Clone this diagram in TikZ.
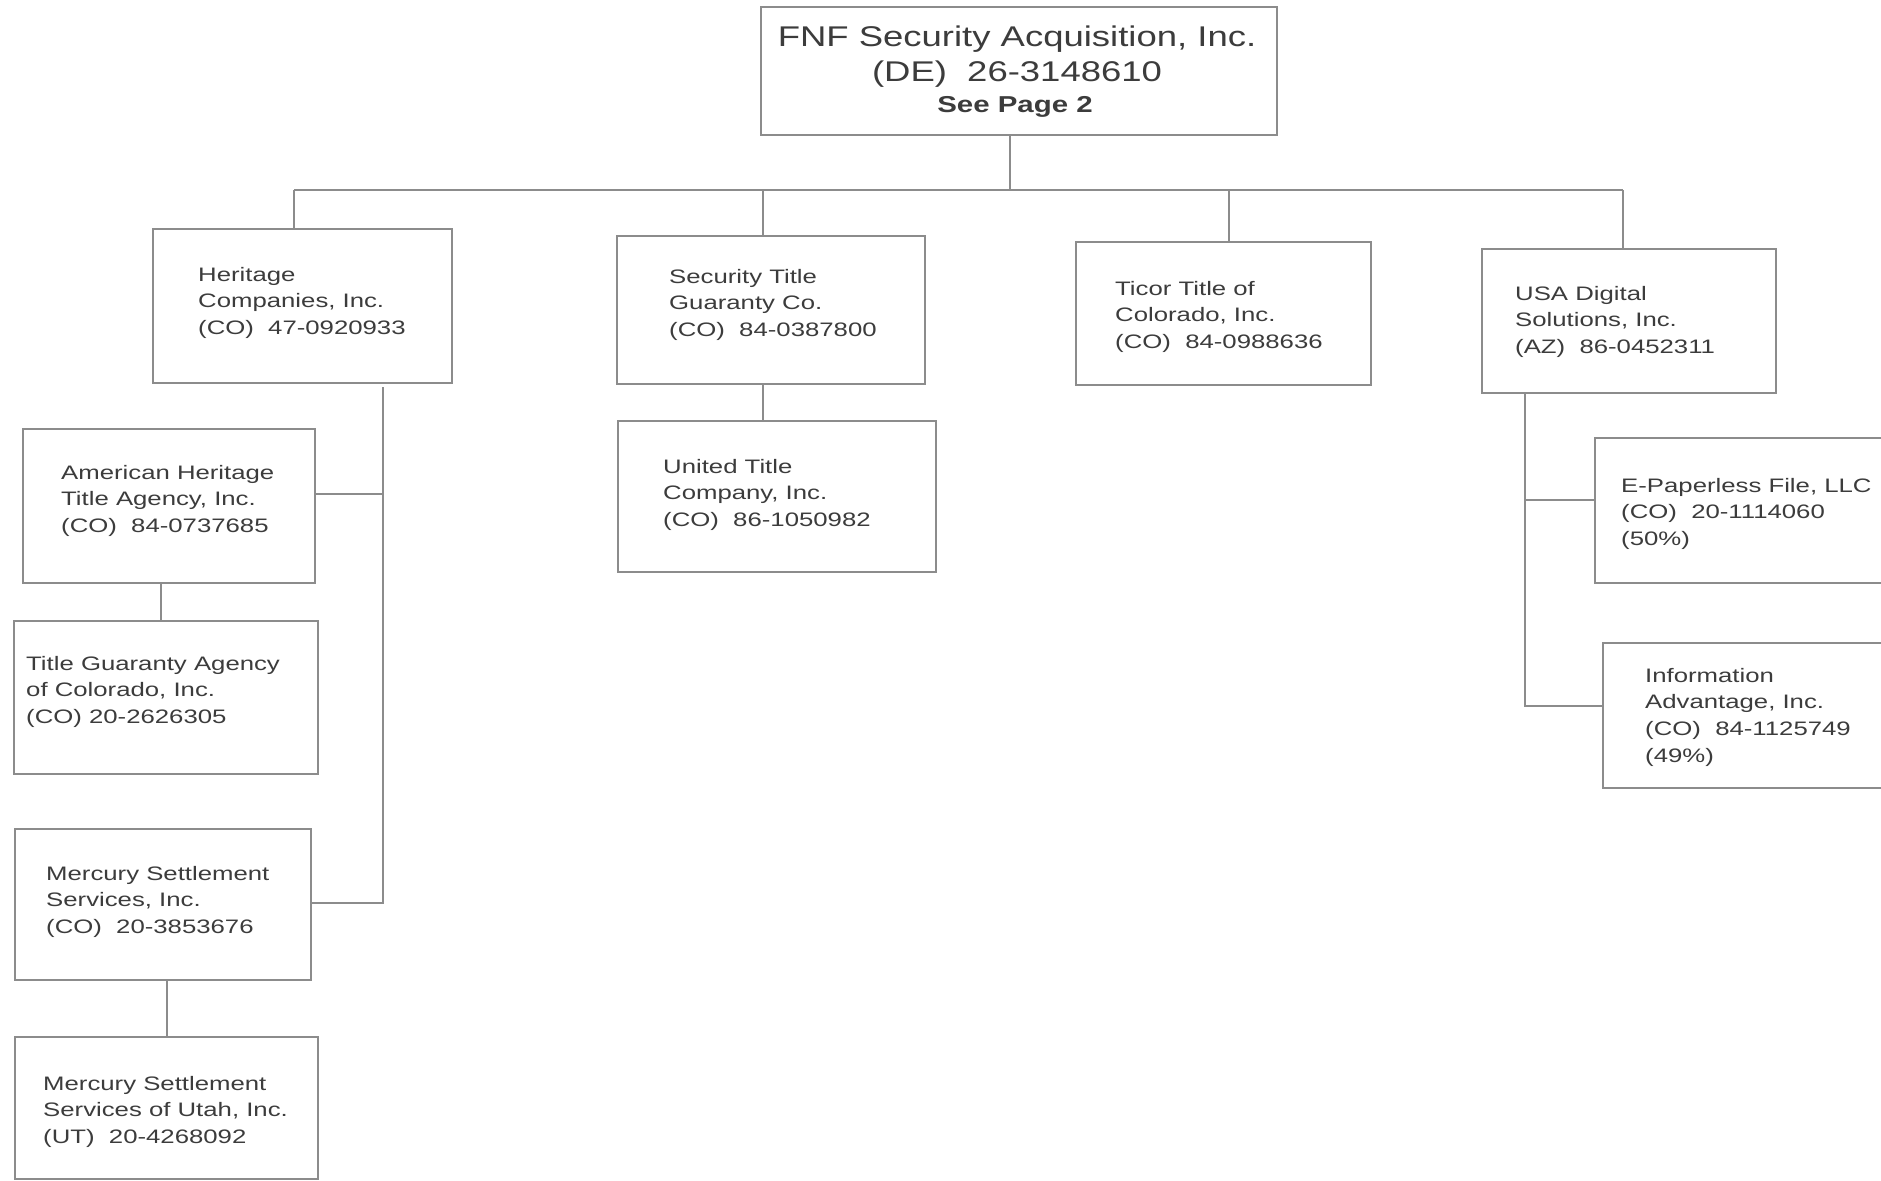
\documentclass[tikz,border=0pt]{standalone}
\usepackage{fontspec}
\setmainfont{Liberation Sans}[FakeStretch=1.32]
\newfontfamily\topfont{Liberation Sans}[FakeStretch=1.28]
\newcommand{\boxlines}[1]{\vtop{\baselineskip=26.7pt\halign{##\hfil\cr#1\crcr}}}
\newcommand{\toplines}[1]{\vtop{\baselineskip=35pt\halign{\hfil##\hfil\cr#1\crcr}}}
\definecolor{linegray}{HTML}{8C8C8C}
\definecolor{textgray}{HTML}{3C3C3C}
\begin{document}
\begin{tikzpicture}[x=1pt,y=-1pt,
  orgbox/.style={draw=linegray, line width=2.4pt, rectangle, inner sep=0pt, anchor=north west},
  orgtext/.style={inner sep=0pt, anchor=base west, text=textgray, font=\fontsize{19.5}{26.7}\selectfont},
  link/.style={draw=linegray, line width=2pt}]
\useasboundingbox (0,0) rectangle (1881,1180);
\fill[white] (0,0) rectangle (1881,1180);
\clip (0,0) rectangle (1881,1180);

% boxes
\node[orgbox, minimum width=516pt, minimum height=128pt] (top) at (760,6) {};
\node[orgbox, minimum width=299pt, minimum height=154pt] (her) at (152,228) {};
\node[orgbox, minimum width=308pt, minimum height=148pt] (sec) at (616,235) {};
\node[orgbox, minimum width=295pt, minimum height=143pt] (tic) at (1075,241) {};
\node[orgbox, minimum width=294pt, minimum height=144pt] (usa) at (1481,248) {};
\node[orgbox, minimum width=292pt, minimum height=154pt] (amh) at (22,428) {};
\node[orgbox, minimum width=304pt, minimum height=153pt] (tga) at (13,620) {};
\node[orgbox, minimum width=296pt, minimum height=151pt] (mer) at (14,828) {};
\node[orgbox, minimum width=303pt, minimum height=142pt] (mut) at (14,1036) {};
\node[orgbox, minimum width=318pt, minimum height=151pt] (uni) at (617,420) {};
\node[orgbox, minimum width=330pt, minimum height=145pt] (epf) at (1594,437) {};
\node[orgbox, minimum width=330pt, minimum height=145pt] (inf) at (1602,642) {};

% texts
\node[inner sep=0pt, anchor=base, text=textgray, font=\topfont\fontsize{28.5}{31}\selectfont] (top-t) at (1017,47)
  {\toplines{FNF Security Acquisition, Inc.\cr (DE)\ \ 26-3148610}};
\node[inner sep=0pt, anchor=base, text=textgray, font=\topfont\bfseries\fontsize{23}{26}\selectfont] (top-s) at (1015,113) {See Page 2};
\node[orgtext] (her-t) at (198,281) {\boxlines{Heritage\cr Companies, Inc.\cr (CO)\ \ 47-0920933}};
\node[orgtext] (sec-t) at (669,283) {\boxlines{Security Title\cr Guaranty Co.\cr (CO)\ \ 84-0387800}};
\node[orgtext] (tic-t) at (1115,295) {\boxlines{Ticor Title of\cr Colorado, Inc.\cr (CO)\ \ 84-0988636}};
\node[orgtext] (usa-t) at (1515,300) {\boxlines{USA Digital\cr Solutions, Inc.\cr (AZ)\ \ 86-0452311}};
\node[orgtext] (amh-t) at (61,479) {\boxlines{American Heritage\cr Title Agency, Inc.\cr (CO)\ \ 84-0737685}};
\node[orgtext] (tga-t) at (26,670) {\boxlines{Title Guaranty Agency\cr of Colorado, Inc.\cr (CO) 20-2626305}};
\node[orgtext] (mer-t) at (46,880) {\boxlines{Mercury Settlement\cr Services, Inc.\cr (CO)\ \ 20-3853676}};
\node[orgtext] (mut-t) at (43,1090) {\boxlines{Mercury Settlement\cr Services of Utah, Inc.\cr (UT)\ \ 20-4268092}};
\node[orgtext] (uni-t) at (663,473) {\boxlines{United Title\cr Company, Inc.\cr (CO)\ \ 86-1050982}};
\node[orgtext] (epf-t) at (1621,492) {\boxlines{E-Paperless File, LLC\cr (CO)\ \ 20-1114060\cr (50\%)}};
\node[orgtext] (inf-t) at (1645,682) {\boxlines{Information\cr Advantage, Inc.\cr (CO)\ \ 84-1125749\cr (49\%)}};

% connectors
\coordinate (bT) at (1010,190);
\coordinate (bH) at (294,190);
\coordinate (bS) at (763,190);
\coordinate (bC) at (1229,190);
\coordinate (bU) at (1623,190);
\draw[link] (top.south -| bT) -- (bT);
\draw[link] (bH) -- (bU);
\draw[link] (bH) -- (her.north -| bH);
\draw[link] (bS) -- (sec.north -| bS);
\draw[link] (bC) -- (tic.north -| bC);
\draw[link] (bU) -- (usa.north -| bU);

\coordinate (hv) at (383,387);
\coordinate (hvA) at (383,494);
\coordinate (hvM) at (383,903);
\draw[link] (hv) -- (hvM) -- (mer.east |- hvM);
\draw[link] (hvA) -- (amh.east |- hvA);

\coordinate (c1) at (161,600);
\draw[link] (amh.south -| c1) -- (tga.north -| c1);
\coordinate (c2) at (167,1000);
\draw[link] (mer.south -| c2) -- (mut.north -| c2);
\draw[link] (sec.south -| bS) -- (uni.north -| bS);

\coordinate (uv) at (1525,500);
\coordinate (uv2) at (1525,706);
\draw[link] (usa.south -| uv) -- (uv2) -- (inf.west |- uv2);
\draw[link] (uv) -- (epf.west |- uv);
\end{tikzpicture}
\end{document}
